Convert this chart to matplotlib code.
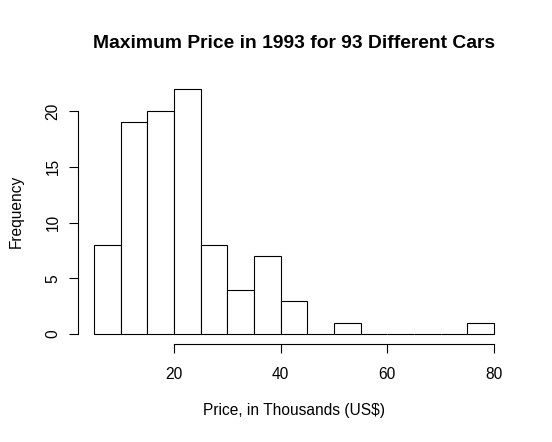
import matplotlib
matplotlib.use("Agg")
import matplotlib.pyplot as plt
import numpy as np

# Data
bin_edges = [5, 10, 15, 20, 25, 30, 35, 40, 45, 50, 55, 60, 65, 70, 75, 80]
counts = [8, 19, 20, 22, 8, 4, 7, 3, 0, 1, 0, 0, 0, 0, 1]
x_ticks = [20, 40, 60, 80]
y_ticks = [0, 5, 10, 15, 20]
title = "Maximum Price in 1993 for 93 Different Cars"
xlabel = "Price, in Thousands (US$)"
ylabel = "Frequency"

plt.rcParams['font.family'] = ['Liberation Sans', 'DejaVu Sans']

W, H = 552, 442
fig = plt.figure(figsize=(W / 100, H / 100), dpi=100)
# plot region in pixels: x 78..510, y 79..344
left, right, top, bottom = 78, 510, 79, 344
ax = fig.add_axes([left / W, 1 - bottom / H, (right - left) / W, (bottom - top) / H])

ax.hist(np.array(bin_edges[:-1]) + 0.5, bins=bin_edges, weights=counts,
        facecolor='white', edgecolor='black', linewidth=0.8)

ax.set_xlim(2, 83)
ax.set_ylim(-0.88, 22.88)
for s in ['top', 'right']:
    ax.spines[s].set_visible(False)
ax.spines['bottom'].set_bounds(20, 80)
ax.spines['left'].set_bounds(0, 20)
ax.spines['bottom'].set_linewidth(0.8)
ax.spines['left'].set_linewidth(0.8)

ax.set_xticks(x_ticks)
ax.set_yticks(y_ticks)
ax.set_xticklabels([str(v) for v in x_ticks])
ax.set_yticklabels([str(v) for v in y_ticks], rotation=90, va='center')
ax.tick_params(axis='both', direction='out', length=6.5, width=0.8,
               labelsize=11.2, colors='black')
ax.tick_params(axis='x', pad=10)
ax.tick_params(axis='y', pad=6)

fig.text(294 / W, 1 - 43 / H, title, ha='center', va='center',
         fontsize=13.9, fontweight='bold')
fig.text(294 / W, 1 - 411 / H, xlabel, ha='center', va='center', fontsize=11.2)
fig.text(16 / W, 1 - 211 / H, ylabel, ha='center', va='center', fontsize=11.2,
         rotation=90)

fig.savefig("out.png", dpi=100)
